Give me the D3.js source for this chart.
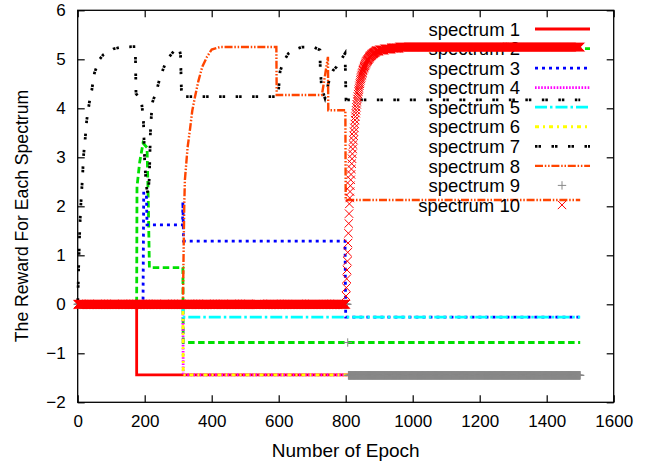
<!DOCTYPE html>
<html>
<head>
<meta charset="utf-8">
<script src="https://cdn.jsdelivr.net/npm/d3@7"></script>
<style>
  body { margin: 0; background: #fff; }
  svg { display: block; }
  text { font-family: "Liberation Sans", Arial, Helvetica, sans-serif; fill: #000; }
</style>
</head>
<body>
<svg id="chart" width="650" height="464"></svg>
<script>
// ---- data -------------------------------------------------------------
const seriesNames = ["spectrum 1", "spectrum 2", "spectrum 3", "spectrum 4", "spectrum 5",
                     "spectrum 6", "spectrum 7", "spectrum 8", "spectrum 9", "spectrum 10"];
const xTicks = [0, 200, 400, 600, 800, 1000, 1200, 1400, 1600];
const yTicks = [-2, -1, 0, 1, 2, 3, 4, 5, 6];

// line series: [epoch, reward] vertices
const spectrum1 = [[0, 0], [176, 0], [176, -1.44], [1500, -1.44]];
const spectrum2 = [[0, 0], [176, 0], [177, 2.4], [185, 2.9], [195, 3.29], [207, 3.2], [211, 2.0],
                   [214, 0.75], [314, 0.75], [315, -0.78], [1500, -0.78]];
const spectrum3 = [[0, 0], [195, 0], [197, 2.27], [205, 2.27], [207, 1.62], [313, 1.62], [314, 2.09],
                   [316, 1.29], [798, 1.29], [800, -0.26], [1500, -0.26]];
const spectrum4 = [[0, 0], [314, 0], [315, -1.44], [1500, -1.44]];
const spectrum5 = [[0, 0], [314, 0], [315, -0.26], [1500, -0.26]];
const spectrum6 = [[0, 0], [314, 0], [315, -1.44], [1500, -1.44]];
const spectrum7 = [[0, 0], [3, 0.8], [6, 1.5], [9, 2.0], [12, 2.33], [15, 2.68], [17, 3.0], [22, 3.35],
                   [27, 3.76], [35, 4.13], [42, 4.37], [50, 4.72], [64, 4.99], [76, 5.09], [106, 5.21],
                   [131, 5.25], [172, 5.26], [174, 4.3], [190, 4.15], [196, 3.8], [200, 2.9], [205, 2.4],
                   [210, 2.25], [214, 2.6], [217, 3.5], [222, 4.1], [236, 4.37], [246, 4.64], [266, 4.99],
                   [290, 5.19], [302, 5.23], [307, 5.1], [310, 4.24], [598, 4.24], [604, 4.75], [614, 4.95],
                   [629, 5.12], [644, 5.19], [669, 5.25], [704, 5.25], [723, 5.19], [724, 4.85], [728, 4.41],
                   [738, 4.21], [753, 4.64], [763, 4.78], [773, 4.85], [798, 5.12], [801, 4.17], [1500, 4.17]];
const spectrum8 = [[0, 0], [314, 0], [316, 1.0], [318, 2.0], [320, 2.54], [328, 3.2], [335, 3.56],
                   [342, 3.95], [350, 4.23], [360, 4.55], [372, 4.85], [386, 5.05], [400, 5.2], [425, 5.25],
                   [593, 5.25], [594, 4.27], [729, 4.27], [747, 5.05], [748, 3.96], [799, 3.96],
                   [800, 2.13], [1500, 2.13]];

// point series: runs of [fromEpoch, toEpoch, reward], one point per epoch
const spectrum9Runs = [[0, 805, 0], [806, 806, -0.78], [808, 1500, -1.45]];
const spectrum10Runs = [[0, 799, 0], [891, 900, 5.17], [901, 915, 5.19], [916, 935, 5.21],
                        [936, 960, 5.23], [961, 1500, 5.25]];
// spectrum 10 recovery after epoch 800, one value per epoch (epochs 800..890)
const spectrum10RiseStart = 800;
const spectrum10Rise = [
  0, 0.17, 0.34, 0.52, 0.7, 0.88, 1.06, 1.25, 1.45, 1.65,
  1.85, 2.05, 2.17, 2.3, 2.42, 2.54, 2.65, 2.76, 2.87, 2.97,
  3.07, 3.17, 3.26, 3.35, 3.44, 3.52, 3.6, 3.68, 3.76, 3.83,
  3.9, 3.96, 4.02, 4.08, 4.14, 4.19, 4.24, 4.29, 4.34, 4.38,
  4.42, 4.46, 4.5, 4.53, 4.57, 4.6, 4.63, 4.66, 4.68, 4.71,
  4.73, 4.76, 4.78, 4.8, 4.82, 4.84, 4.86, 4.87, 4.89, 4.9,
  4.92, 4.93, 4.95, 4.96, 4.97, 4.98, 4.99, 5.0, 5.01, 5.02,
  5.03, 5.04, 5.05, 5.06, 5.07, 5.07, 5.08, 5.09, 5.09, 5.1,
  5.11, 5.11, 5.12, 5.12, 5.13, 5.13, 5.14, 5.14, 5.15, 5.15,
  5.16
];

// ---- styles -----------------------------------------------------------
const colors = ["#ff0000", "#00e000", "#0000ff", "#ff00ff", "#00ffff",
                "#ffff00", "#000000", "#ff4500", "#888888", "#ff0000"];
const dashes = [null, "6.5,3.5", "3,4", "1.6,1.5", "12,3,2.5,3",
                "4,4,2,4", "2.5,1,2.5,10.5", "8,1.8,1.5,1.8,1.5,1.8", null, null];
const widths = [2.8, 2.8, 2.8, 2.8, 2.8, 2.8, 2.8, 2.4, 1, 1];

// ---- helpers ----------------------------------------------------------
function expandRuns(runs) {
  const pts = [];
  runs.forEach(([a, b, v]) => { for (let e = a; e <= b; e++) pts.push([e, v]); });
  return pts;
}
const spectrum9 = expandRuns(spectrum9Runs);
const spectrum10 = expandRuns(spectrum10Runs)
  .concat(spectrum10Rise.map((v, i) => [spectrum10RiseStart + i, v]))
  .sort((a, b) => a[0] - b[0]);

const lineData = [spectrum1, spectrum2, spectrum3, spectrum4, spectrum5, spectrum6, spectrum7, spectrum8];
const pointData = { 8: spectrum9, 9: spectrum10 };

// gnuplot-style point shapes
const crossSymbol = { draw(ctx, size) { const r = Math.sqrt(size) / 2;
  ctx.moveTo(-r, 0); ctx.lineTo(r, 0); ctx.moveTo(0, -r); ctx.lineTo(0, r); } };
const timesSymbol = { draw(ctx, size) { const r = Math.sqrt(size) / 2;
  ctx.moveTo(-r, -r); ctx.lineTo(r, r); ctx.moveTo(-r, r); ctx.lineTo(r, -r); } };
const symbolTypes = { 8: crossSymbol, 9: timesSymbol };
const symbolSizes = { 8: 8.4 * 8.4, 9: 8.4 * 8.4 };

// ---- layout -----------------------------------------------------------
const svg = d3.select("#chart");
const x = d3.scaleLinear().domain([0, 1600]).range([77.7, 613.7]);
const y = d3.scaleLinear().domain([-2, 6]).range([402.3, 10.3]);

// axes with inward ticks on all four sides
const tickLen = 7;
svg.append("g").attr("transform", `translate(0,${y(-2)})`)
  .call(d3.axisBottom(x).tickValues(xTicks).tickFormat(d3.format("d"))
    .tickSizeInner(-tickLen).tickSizeOuter(0).tickPadding(13))
  .call(g => g.select(".domain").remove());
svg.append("g").attr("transform", `translate(0,${y(6)})`)
  .call(d3.axisTop(x).tickValues(xTicks).tickSizeInner(-tickLen).tickSizeOuter(0).tickFormat(""))
  .call(g => g.select(".domain").remove());
svg.append("g").attr("transform", `translate(${x(0)},0)`)
  .call(d3.axisLeft(y).tickValues(yTicks).tickFormat(d3.format("d"))
    .tickSizeInner(-tickLen).tickSizeOuter(0).tickPadding(12))
  .call(g => g.select(".domain").remove());
svg.append("g").attr("transform", `translate(${x(1600)},0)`)
  .call(d3.axisRight(y).tickValues(yTicks).tickSizeInner(-tickLen).tickSizeOuter(0).tickFormat(""))
  .call(g => g.select(".domain").remove());
svg.selectAll(".tick line").attr("stroke", "#000").attr("stroke-width", 1.2);
svg.selectAll(".tick text").attr("font-size", 17)
  .attr("font-family", '"Liberation Sans", Arial, sans-serif').attr("fill", "#000");

svg.append("rect")
  .attr("x", x(0)).attr("y", y(6))
  .attr("width", x(1600) - x(0)).attr("height", y(-2) - y(6))
  .attr("fill", "none").attr("stroke", "#000").attr("stroke-width", 1.3);

// axis titles
svg.append("text")
  .attr("x", (x(0) + x(1600)) / 2).attr("y", 457)
  .attr("text-anchor", "middle").attr("font-size", 19)
  .text("Number of Epoch");
svg.append("text")
  .attr("transform", `translate(22,216) rotate(-90)`)
  .attr("text-anchor", "middle").attr("dy", "0.35em").attr("font-size", 17.6)
  .text("The Reward For Each Spectrum");

// ---- series and key, drawn in turn ------------------------------------
const line = d3.line().x(d => x(d[0])).y(d => y(d[1]));
const keyTextX = 520, keySampleX0 = 535, keySampleX1 = 590, keyY0 = 29, keyStep = 19.55;

seriesNames.forEach((name, i) => {
  const ky = keyY0 + i * keyStep;
  const g = svg.append("g").attr("class", "series-" + (i + 1));

  g.append("text")
    .attr("x", keyTextX).attr("y", ky).attr("dy", "0.36em")
    .attr("text-anchor", "end").attr("font-size", 18.5)
    .text(name);

  if (pointData[i]) {
    const sym = d3.symbol().type(symbolTypes[i]).size(symbolSizes[i]);
    g.append("path")
      .attr("transform", `translate(${(keySampleX0 + keySampleX1) / 2 - 0.5},${ky})`)
      .attr("d", sym()).attr("fill", "none")
      .attr("stroke", colors[i]).attr("stroke-width", widths[i]);
    g.append("g").selectAll("path")
      .data(pointData[i])
      .join("path")
      .attr("transform", d => `translate(${x(d[0])},${y(d[1])})`)
      .attr("d", sym())
      .attr("fill", "none")
      .attr("stroke", colors[i])
      .attr("stroke-width", widths[i]);
  } else {
    g.append("line")
      .attr("x1", keySampleX0).attr("x2", keySampleX1)
      .attr("y1", ky).attr("y2", ky)
      .attr("stroke", colors[i]).attr("stroke-width", widths[i])
      .attr("stroke-dasharray", dashes[i]);
    g.append("path")
      .datum(lineData[i])
      .attr("d", line)
      .attr("fill", "none")
      .attr("stroke", colors[i])
      .attr("stroke-width", widths[i])
      .attr("stroke-linejoin", "miter")
      .attr("stroke-dasharray", dashes[i]);
  }
});
</script>
</body>
</html>
